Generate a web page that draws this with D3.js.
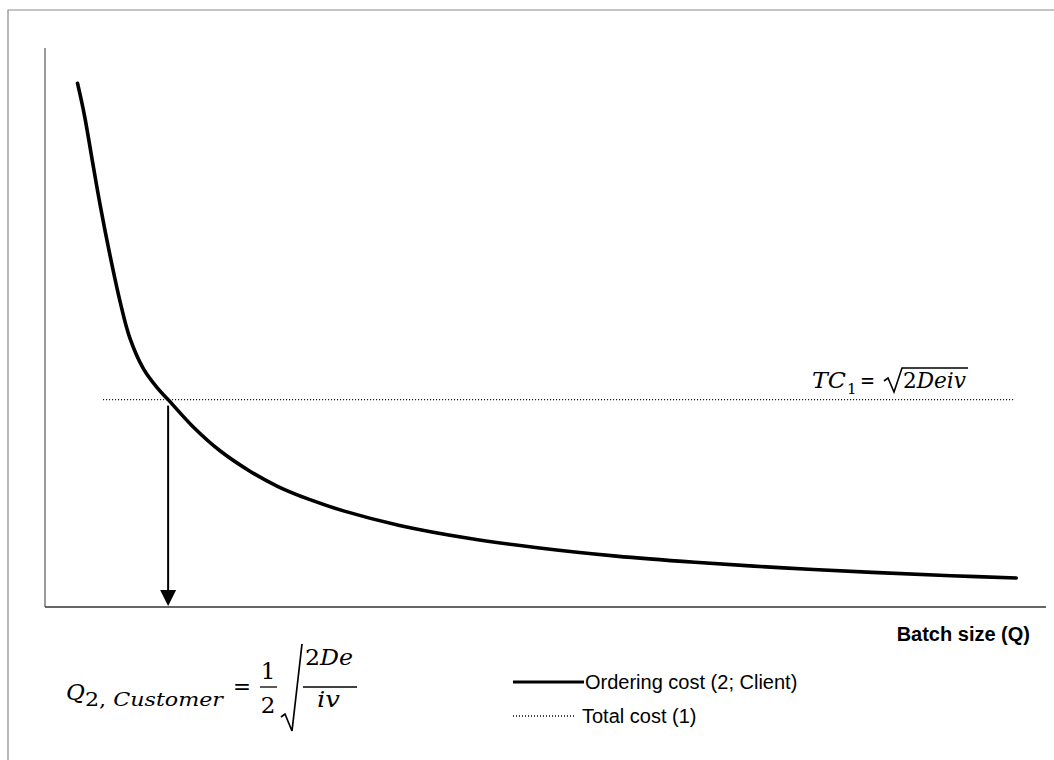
<!DOCTYPE html>
<html><head><meta charset="utf-8">
<script src="https://cdn.jsdelivr.net/npm/d3@7"></script>
<style>body{margin:0;background:#fff}svg{display:block}</style>
</head><body>
<script>
// Data (abstract units)
const batchSize = [3.3, 4.0, 4.8, 5.6, 6.6, 7.6, 8.6, 10.0, 11.4, 12.5, 15.0, 17.8, 20.8, 23.6, 26.9, 30.3, 36.0, 43.0, 50.0, 58.0, 66.0, 75.0, 84.0, 92.0, 98.6];
const orderingCost = [93.7, 88.0, 79.9, 71.9, 62.9, 54.8, 48.2, 42.6, 39.2, 37.1, 32.3, 27.9, 24.3, 21.6, 19.2, 17.2, 14.6, 12.3, 10.6, 9.1, 8.0, 7.0, 6.2, 5.6, 5.2];
const totalCostLevel = [37.1];
const totalCostRange = [5.9, 98.3];
const optimumQ = [12.5];
const legendLabels = ["Ordering cost (2; Client)", "Total cost (1)"];
const xAxisTitle = "Batch size (Q)";

const W = 1054, H = 760;
const svg = d3.select("body").append("svg").attr("width", W).attr("height", H);

// frame (top and left edges)
svg.append("path").attr("d", `M8,${H} L8,10 L${W},10`).attr("fill","none").attr("stroke","#8a8a8a").attr("stroke-width",1.2);

const x = d3.scaleLinear().domain([0,100]).range([45,1030]);
const y = d3.scaleLinear().domain([0,100]).range([607,48]);

// axes
svg.append("line").attr("x1",x(0)).attr("x2",x(0)).attr("y1",y(100)).attr("y2",y(0)).attr("stroke","#7a7a7a").attr("stroke-width",1.5);
svg.append("line").attr("x1",x(0)).attr("x2",1046).attr("y1",y(0)).attr("y2",y(0)).attr("stroke","#333").attr("stroke-width",1.5);

// total cost dotted line
svg.append("line").attr("x1",x(totalCostRange[0])).attr("x2",x(totalCostRange[1]))
  .attr("y1",y(totalCostLevel[0])).attr("y2",y(totalCostLevel[0]))
  .attr("stroke","#000").attr("stroke-width",1.3).attr("stroke-dasharray","1,2");

// ordering cost curve
const pts = batchSize.map((q,i)=>[q,orderingCost[i]]);
svg.append("path").datum(pts)
  .attr("d", d3.line().x(d=>x(d[0])).y(d=>y(d[1])).curve(d3.curveCatmullRom.alpha(0.5)))
  .attr("fill","none").attr("stroke","#000").attr("stroke-width",3.6).attr("stroke-linecap","round");

// arrow
const ax = x(optimumQ[0]);
svg.append("line").attr("x1",ax).attr("x2",ax).attr("y1",y(totalCostLevel[0])+6).attr("y2",y(0)-16)
  .attr("stroke","#000").attr("stroke-width",2);
svg.append("path").attr("d",`M${ax-8},${y(0)-17} L${ax+8},${y(0)-17} L${ax},${y(0)-1} Z`).attr("fill","#000");

// x axis title
svg.append("text").attr("x",1030).attr("y",641).attr("text-anchor","end")
  .attr("font-family","Liberation Sans, Arial, sans-serif").attr("font-weight","bold").attr("font-size",20).text(xAxisTitle);

// TC formula
const mf = "DejaVu Serif, Liberation Serif, serif";
const tc = svg.append("g").attr("font-family",mf).attr("font-size",22);
tc.append("text").attr("x",812).attr("y",388).attr("font-style","italic").attr("textLength",34).attr("lengthAdjust","spacingAndGlyphs").text("TC");
tc.append("text").attr("x",847).attr("y",394).attr("font-size",15).text("1");
tc.append("text").attr("x",860).attr("y",388).attr("textLength",15).attr("lengthAdjust","spacingAndGlyphs").text("=");
tc.append("path").attr("d","M884,381 L888,378 L894,392 L902,368 L968,368").attr("fill","none").attr("stroke","#000").attr("stroke-width",1.6);
const t2 = tc.append("text").attr("x",903).attr("y",388).attr("textLength",63).attr("lengthAdjust","spacingAndGlyphs");
t2.append("tspan").text("2");
t2.append("tspan").attr("font-style","italic").text("Deiv");

// Q formula
const qf = svg.append("g").attr("font-family",mf).attr("font-size",23);
qf.append("text").attr("x",66).attr("y",700).attr("font-style","italic").text("Q");
const sub = qf.append("text").attr("x",85).attr("y",706).attr("font-size",18).attr("textLength",138).attr("lengthAdjust","spacingAndGlyphs");
sub.append("tspan").text("2, ");
sub.append("tspan").attr("font-style","italic").text("Customer");
qf.append("text").attr("x",233).attr("y",694).attr("textLength",18).attr("lengthAdjust","spacingAndGlyphs").text("=");
qf.append("text").attr("x",268).attr("y",679).attr("text-anchor","middle").text("1");
qf.append("line").attr("x1",260).attr("x2",277).attr("y1",687).attr("y2",687).attr("stroke","#000").attr("stroke-width",1.3);
qf.append("text").attr("x",268).attr("y",713).attr("text-anchor","middle").text("2");
qf.append("path").attr("d","M281,717 L285,714 L292,731 L302,644").attr("fill","none").attr("stroke","#000").attr("stroke-width",1.7);
const num = qf.append("text").attr("x",305).attr("y",665).attr("textLength",48).attr("lengthAdjust","spacingAndGlyphs");
num.append("tspan").text("2");
num.append("tspan").attr("font-style","italic").text("De");
qf.append("line").attr("x1",303).attr("x2",357).attr("y1",687).attr("y2",687).attr("stroke","#000").attr("stroke-width",1.3);
qf.append("text").attr("x",317).attr("y",707).attr("font-style","italic").attr("textLength",23).attr("lengthAdjust","spacingAndGlyphs").text("iv");

// legend
const lg = svg.append("g").attr("font-family","Liberation Sans, Arial, sans-serif").attr("font-size",20);
lg.append("line").attr("x1",513).attr("x2",584).attr("y1",682).attr("y2",682).attr("stroke","#000").attr("stroke-width",3);
lg.append("text").attr("x",585).attr("y",689).text(legendLabels[0]);
lg.append("line").attr("x1",513).attr("x2",576).attr("y1",716).attr("y2",716).attr("stroke","#000").attr("stroke-width",1.3).attr("stroke-dasharray","1,2");
lg.append("text").attr("x",582).attr("y",723).text(legendLabels[1]);
</script>
</body></html>
